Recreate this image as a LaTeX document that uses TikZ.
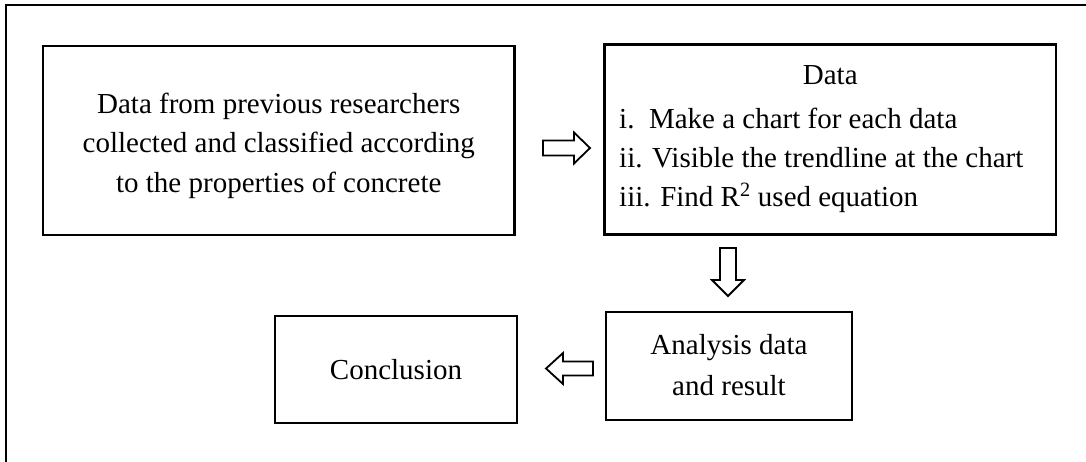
\documentclass[tikz,border=0pt]{standalone}
\usepackage{fontspec}
\setmainfont{Liberation Serif}
\begin{document}
\begin{tikzpicture}[x=1pt,y=-1pt]
\tikzset{
  box/.style={draw=black, line width=2.2pt, inner sep=0pt},
  txt/.style={inner sep=0pt, font=\fontsize{29}{35}\selectfont},
  blockarrow/.style={draw=black, line width=1.8pt, line join=miter, fill=white},
  frame/.style={draw=black, line width=2.4pt, line join=miter}
}
\useasboundingbox (0,0) rectangle (1086,461);
\fill[white] (0,0) rectangle (1086,461);
% outer frame (left and top edges only)
\coordinate (fbl) at (6,462);
\coordinate (ftl) at (6,4.8);
\coordinate (ftr) at (1087,4.8);
\draw[frame] (fbl) -- (ftl) -- (ftr);

% boxes
\node[box, minimum width=471.5pt, minimum height=189pt] (src) at (278.75,140.5) {};
\node[box, minimum width=451.5pt, minimum height=190pt] (data) at (830.25,139.5) {};
\node[box, minimum width=246pt, minimum height=108pt] (ana) at (729,366) {};
\node[box, minimum width=242pt, minimum height=107pt] (conc) at (396,369.5) {};

% texts of the first box
\node[txt, anchor=base] (s1) at (278.75,113) {Data from previous researchers};
\node[txt, anchor=base] (s2) at (278.75,152.5) {collected and classified according};
\node[txt, anchor=base] (s3) at (278.75,192) {to the properties of concrete};

% texts of the data box
\node[txt, anchor=base] (d0) at (830.25,84) {Data};
\node[txt, anchor=base west] (d1) at (619,128) {i.\ \ Make a chart for each data};
\node[txt, anchor=base west] (d2) at (619,167) {ii. Visible the trendline at the chart};
\node[txt, anchor=base west] (d3) at (619,206) {iii. Find R\textsuperscript{2} used equation};

% analysis box
\node[txt, anchor=base] (a1) at (729,354) {Analysis data};
\node[txt, anchor=base] (a2) at (729,395.5) {and result};

% conclusion box
\node[txt, anchor=base] (c1) at (396,379) {Conclusion};

% block arrows
\draw[blockarrow] (543,140.5) -- (574,140.5) -- (574,132.5) -- (590,148) -- (574,163.5) -- (574,155.5) -- (543,155.5) -- cycle;
\draw[blockarrow] (720,248) -- (736,248) -- (736,280) -- (744,280) -- (728,296) -- (712,280) -- (720,280) -- cycle;
\draw[blockarrow] (593,361.5) -- (563,361.5) -- (563,353) -- (546,368.5) -- (563,384) -- (563,375.5) -- (593,375.5) -- cycle;
\end{tikzpicture}
\end{document}
